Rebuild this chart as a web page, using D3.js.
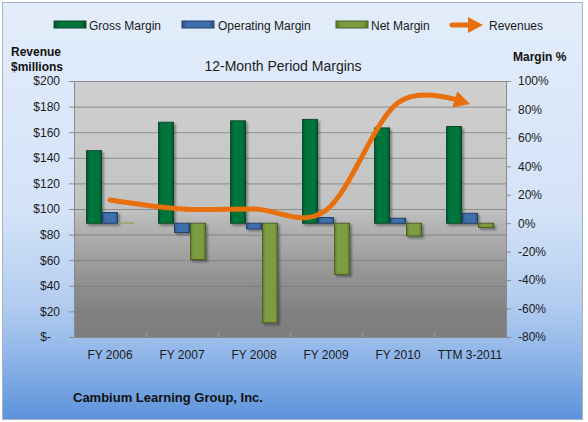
<!DOCTYPE html>
<html><head><meta charset="utf-8">
<script src="https://cdn.jsdelivr.net/npm/d3@7/dist/d3.min.js"></script>
<style>
html,body{margin:0;padding:0;background:#fff;}
svg{display:block;font-family:"Liberation Sans",Arial,sans-serif;}
</style></head>
<body>
<svg id="chart" width="588" height="422"></svg>
<script>
const categories = ["FY 2006","FY 2007","FY 2008","FY 2009","FY 2010","TTM 3-2011"];
const grossMargin = [51, 71, 72, 73, 67, 68];
const operatingMargin = [7.5, -6.5, -4, 4, 3.5, 7];
const netMargin = [0, -25.5, -70, -36, -9, -3];
const revenues = [107, 100, 100, 99, 183, 182];
const leftTicks = [0,20,40,60,80,100,120,140,160,180,200];
const rightTicks = [-80,-60,-40,-20,0,20,40,60,80,100];
const seriesNames = ["Gross Margin","Operating Margin","Net Margin"];
const seriesData = [grossMargin, operatingMargin, netMargin];

const colors = {
  "Gross Margin": {fill:"#00753a", edge:"#005228", stroke:"#0b4a29"},
  "Operating Margin": {fill:"#3f6fab", edge:"#2c5288", stroke:"#23406a"},
  "Net Margin": {fill:"#7d9c40", edge:"#5e7a2c", stroke:"#4b6124"}
};
const revColor = "#e8700c";

const svg = d3.select("#chart");
const defs = svg.append("defs");

const bg = defs.append("linearGradient").attr("id","bgGrad").attr("x1",0).attr("y1",0).attr("x2",0).attr("y2",1);
[[0,"#e3edfb"],[0.5,"#d4e3f8"],[0.72,"#b3cdf0"],[0.85,"#8fb5e8"],[1,"#5c93db"]].forEach(s=>bg.append("stop").attr("offset",s[0]).attr("stop-color",s[1]));
const pg = defs.append("linearGradient").attr("id","plotGrad").attr("x1",0).attr("y1",0).attr("x2",0).attr("y2",1);
[[0,"#d0d0d0"],[0.5,"#c2c2c2"],[0.56,"#b4b4b4"],[0.8,"#8e8e8e"],[0.92,"#808080"],[1,"#7e7e7e"]].forEach(s=>pg.append("stop").attr("offset",s[0]).attr("stop-color",s[1]));
seriesNames.forEach((n,i)=>{
  const g = defs.append("linearGradient").attr("id","barGrad"+i).attr("x1",0).attr("y1",0).attr("x2",1).attr("y2",0);
  [[0,colors[n].edge],[0.18,colors[n].fill],[0.82,colors[n].fill],[1,colors[n].edge]].forEach(s=>g.append("stop").attr("offset",s[0]).attr("stop-color",s[1]));
});
const sh = defs.append("filter").attr("id","shadow").attr("x","-20%").attr("y","-20%").attr("width","150%").attr("height","150%");
sh.append("feGaussianBlur").attr("in","SourceAlpha").attr("stdDeviation",1);
sh.append("feOffset").attr("dx",1.5).attr("dy",1.5).attr("result","ob");
sh.append("feComponentTransfer").append("feFuncA").attr("type","linear").attr("slope",0.35);
const mg = sh.append("feMerge"); mg.append("feMergeNode"); mg.append("feMergeNode").attr("in","SourceGraphic");

svg.append("rect").attr("x",2.5).attr("y",2.5).attr("width",580).attr("height",417)
  .attr("fill","url(#bgGrad)").attr("stroke","#a9b4c2").attr("stroke-width",1);

const L=74, R=506, T=81, B=337;
svg.append("rect").attr("x",L).attr("y",T).attr("width",R-L).attr("height",B-T).attr("fill","url(#plotGrad)");

const x0 = d3.scaleBand().domain(categories).range([L,R]).paddingInner(1/3).paddingOuter(1/6);
const x1 = d3.scaleBand().domain(seriesNames).range([0,x0.bandwidth()]);
const yL = d3.scaleLinear().domain([0,200]).range([B,T]);
const yR = d3.scaleLinear().domain([-80,100]).range([B,T]);

svg.append("g").selectAll("line").data(leftTicks.filter(d=>d>0)).join("line")
  .attr("x1",L).attr("x2",R).attr("y1",d=>yL(d)+0.5).attr("y2",d=>yL(d)+0.5)
  .attr("stroke","#7a7a7a").attr("stroke-width",1).attr("stroke-opacity",0.75);

svg.append("g").selectAll("line").data(d3.range(1,categories.length)).join("line")
  .attr("x1",i=>x0.step()*i+L+0.5).attr("x2",i=>x0.step()*i+L+0.5).attr("y1",B-5).attr("y2",B)
  .attr("stroke","#9a9a9a");

const fmtMoney = d=> d===0 ? "$-" : "$" + d;
seriesNames.forEach((n,si)=>{
  const data = categories.map((c,i)=>({c,v:seriesData[si][i]}));
  const g = svg.append("g").attr("filter","url(#shadow)");
  g.selectAll("rect").data(data.filter(d=>d.v!==0)).join("rect")
    .attr("x",d=>x0(d.c)+x1(n)+0.5)
    .attr("y",d=>Math.min(yR(d.v),yR(0)))
    .attr("width",x1.bandwidth()-1)
    .attr("height",d=>Math.max(1.5,Math.abs(yR(d.v)-yR(0))))
    .attr("fill","url(#barGrad"+si+")")
    .attr("stroke",colors[n].stroke).attr("stroke-width",1);
  // zero-value bars render as a thin line
  svg.append("g").selectAll("line").data(data.filter(d=>d.v===0)).join("line")
    .attr("x1",d=>x0(d.c)+x1(n)).attr("x2",d=>x0(d.c)+x1(n)+x1.bandwidth())
    .attr("y1",yR(0)).attr("y2",yR(0))
    .attr("stroke","#93a86a").attr("stroke-width",1.5);
});

const line = d3.line().x((d,i)=>x0(categories[i])+x0.bandwidth()/2).y(d=>yL(d)).curve(d3.curveCatmullRom.alpha(0));
const revPath = svg.append("path").datum(revenues).attr("d",line)
  .attr("fill","none").attr("stroke",revColor).attr("stroke-width",5).attr("stroke-linecap","round");
const node = revPath.node();
const Ltot = node.getTotalLength();
const headLen = 16, headHalf = 8.5;
revPath.attr("stroke-dasharray",(Ltot-headLen+2)+" "+(Ltot+10));
const tip = node.getPointAtLength(Ltot);
const back = node.getPointAtLength(Ltot-headLen);
const ang = Math.atan2(tip.y-back.y, tip.x-back.x);
svg.append("path")
  .attr("d",`M${headLen},0L0,${-headHalf}L0,${headHalf}Z`)
  .attr("transform",`translate(${back.x},${back.y}) rotate(${ang*180/Math.PI})`)
  .attr("fill",revColor);

const axL = svg.append("g").attr("transform",`translate(${L},0)`)
  .call(d3.axisLeft(yL).tickValues(leftTicks).tickFormat(fmtMoney).tickSize(5).tickPadding(9));
const axR = svg.append("g").attr("transform",`translate(${R},0)`)
  .call(d3.axisRight(yR).tickValues(rightTicks).tickFormat(d=>d+"%").tickSize(5).tickPadding(7));
[axL,axR].forEach(a=>{
  a.select(".domain").attr("stroke","#8a8a8a");
  a.selectAll(".tick line").attr("stroke","#8a8a8a");
  a.selectAll("text").attr("font-size",12).attr("fill","#1a1a1a").attr("font-family","Liberation Sans, Arial, sans-serif");
});
axL.selectAll(".tick").filter(d=>d===0).select("text").attr("dx",-9);

const axB = svg.append("g").attr("transform",`translate(0,${B})`)
  .call(d3.axisBottom(x0).tickSize(0).tickPadding(13));
axB.select(".domain").attr("stroke","#8a8a8a");
axB.selectAll("text").attr("font-size",12).attr("fill","#1a1a1a").attr("font-family","Liberation Sans, Arial, sans-serif");

svg.append("text").attr("x",283).attr("y",71).attr("text-anchor","middle").attr("font-size",14).attr("fill","#222").text("12-Month Period Margins");
svg.append("text").attr("x",11).attr("y",56).attr("font-size",12).attr("font-weight","bold").attr("fill","#111").text("Revenue");
svg.append("text").attr("x",11).attr("y",71).attr("font-size",12).attr("font-weight","bold").attr("fill","#111").text("$millions");
svg.append("text").attr("x",513).attr("y",61).attr("font-size",12).attr("font-weight","bold").attr("fill","#111").text("Margin %");
svg.append("text").attr("x",73).attr("y",402).attr("font-size",13).attr("font-weight","bold").attr("fill","#111").text("Cambium Learning Group, Inc.");

const legend = [
  {name:"Gross Margin", x:54, tx:89},
  {name:"Operating Margin", x:182, tx:218},
  {name:"Net Margin", x:336, tx:371},
  {name:"Revenues", x:452, tx:489}
];
const ly = 25;
legend.forEach((d,i)=>{
  if(i<3){
    svg.append("rect").attr("x",d.x).attr("y",ly-4).attr("width",32).attr("height",7)
      .attr("fill","url(#barGrad"+i+")").attr("stroke",colors[d.name].stroke).attr("stroke-width",1);
  } else {
    svg.append("line").attr("x1",d.x).attr("x2",d.x+18).attr("y1",ly).attr("y2",ly).attr("stroke",revColor).attr("stroke-width",5).attr("stroke-linecap","round");
    svg.append("path").attr("d",`M${d.x+31},${ly}L${d.x+16},${ly-8}L${d.x+16},${ly+8}Z`).attr("fill",revColor);
  }
  svg.append("text").attr("x",d.tx).attr("y",ly+4.5).attr("font-size",12).attr("fill","#1a1a1a").text(d.name);
});
</script>
</body></html>
